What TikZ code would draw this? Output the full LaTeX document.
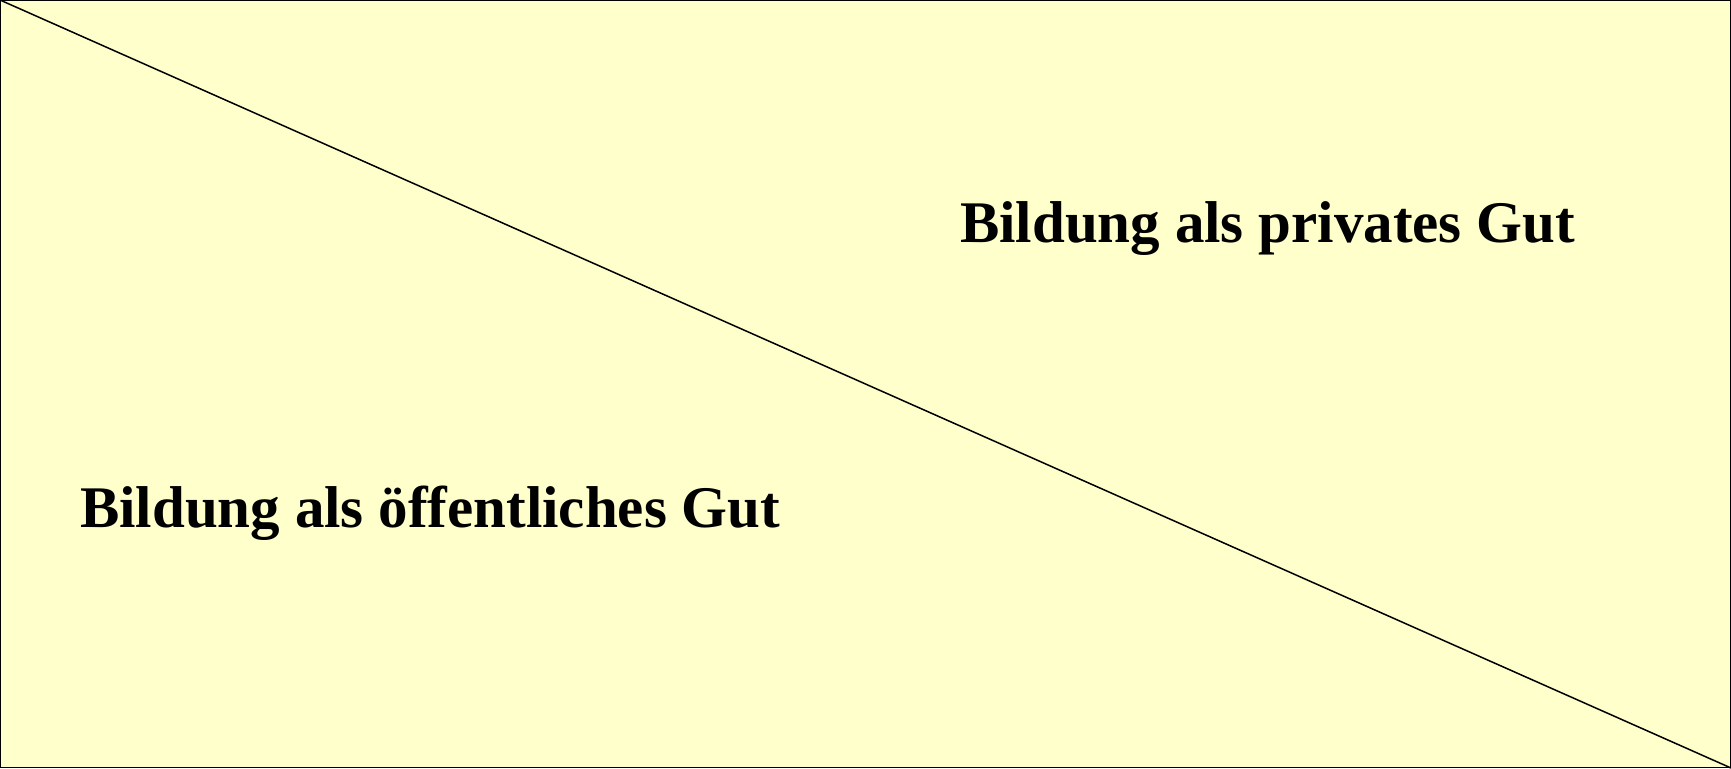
\documentclass[tikz,border=0pt]{standalone}
\usepackage{fontspec}
\setmainfont{Liberation Serif}
\definecolor{paper}{HTML}{FFFFCC}
\begin{document}
\begin{tikzpicture}[x=1pt,y=-1pt,
  label text/.style={anchor=base west,inner sep=0pt,font=\fontsize{59}{70}\selectfont\bfseries}]
  \useasboundingbox (0,0) rectangle (1731,768);
  % background panel with frame
  \fill[paper] (0,0) rectangle (1731,768);
  \draw[line width=1.2pt] (0.6,0.6) rectangle (1730.4,767.4);
  % diagonal split
  \coordinate (tl) at (0,0);
  \coordinate (br) at (1731,768);
  \draw[line width=1.5pt] (tl) -- (br);
  % region labels
  \node[label text] (priv) at (960,242) {Bildung als privates Gut};
  \node[label text] (pub) at (80,527) {Bildung als öffentliches Gut};
\end{tikzpicture}
\end{document}
